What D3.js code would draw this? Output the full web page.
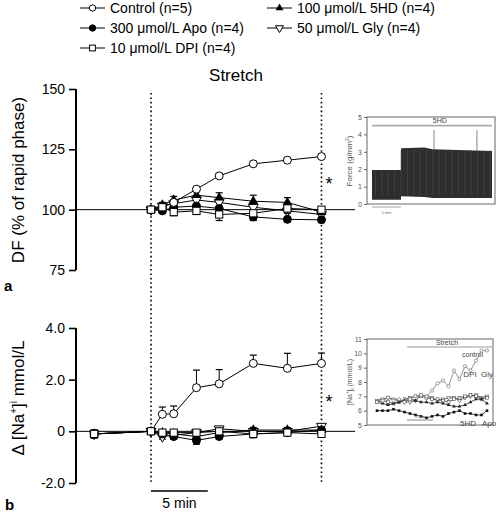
<!DOCTYPE html>
<html><head><meta charset="utf-8">
<script src="https://cdn.jsdelivr.net/npm/d3@7"></script>
<style>body{margin:0;background:#fff}svg{display:block;font-family:"Liberation Sans",Arial,sans-serif}</style>
</head><body><svg id="c" width="496" height="519"></svg>
<script>
// ---- data ----
const seriesNames = ["Control (n=5)", "300 \u03bcmol/L Apo (n=4)", "10 \u03bcmol/L DPI (n=4)", "100 \u03bcmol/L 5HD (n=4)", "50 \u03bcmol/L Gly (n=4)"];
const seriesKeys = ["control", "apo", "dpi", "hd", "gly"];
const timesA = [0, 1, 2, 4, 6, 9, 12, 15];
const dfControl = [100, 101, 103, 108.5, 114, 119, 120.5, 122];
const dfApo = [100, 99.5, 101, 101.5, 100.5, 97, 96, 95.8];
const dfDpi = [100, 101, 99, 99.5, 98, 98.5, 100.5, 100];
const dfHd = [100, 102, 104, 106, 105, 103.5, 103, 99];
const dfGly = [100, 101.5, 102.5, 104, 103, 101, 99.5, 98];
const dfErrControl = [0.5, 1, 1, 1, 1, 1, 1, 1.2];
const dfErrApo = [0.5, 1, 1.5, 1.5, 1.5, 1.5, 1, 1];
const dfErrDpi = [0.5, 1.5, 1.5, 1.5, 2.5, 2, 2, 2];
const dfErrHd = [0.5, 1, 1.5, 1.5, 2, 2.5, 2, 2];
const dfErrGly = [0.5, 1, 1.5, 1.5, 2, 1.5, 1.5, 1.5];
const yTicksA = [75, 100, 125, 150];

const timesB = [-5, 0, 1, 2, 4, 6, 9, 12, 15];
const naControl = [-0.1, 0, 0.66, 0.68, 1.69, 1.84, 2.63, 2.44, 2.63];
const naApo = [-0.1, 0, -0.1, -0.2, -0.35, -0.2, -0.1, -0.05, 0.05];
const naDpi = [-0.1, 0, -0.05, -0.05, -0.05, 0, -0.1, -0.05, -0.1];
const naHd = [-0.1, 0, -0.05, -0.1, -0.2, -0.05, 0.05, 0.05, 0.05];
const naGly = [-0.1, 0, -0.2, -0.15, -0.05, 0.1, 0, 0, 0.2];
const naErrControl = [0.15, 0.05, 0.28, 0.3, 0.68, 0.55, 0.32, 0.58, 0.4];
const naErrApo = [0.15, 0.05, 0.1, 0.1, 0.15, 0.1, 0.1, 0.1, 0.1];
const naErrDpi = [0.15, 0.05, 0.1, 0.1, 0.1, 0.2, 0.15, 0.1, 0.1];
const naErrHd = [0.15, 0.05, 0.1, 0.1, 0.1, 0.15, 0.1, 0.1, 0.1];
const naErrGly = [0.15, 0.05, 0.1, 0.1, 0.1, 0.15, 0.1, 0.1, 0.1];
const yTicksB = [-2, 0, 2, 4];
const yTickLabelsB = ["-2.0", "0", "2.0", "4.0"];

// inset a: force trace
const forceT = [0, 5, 5.01, 9, 10.5, 20.7];
const forceTop = [1.95, 1.95, 3.2, 3.25, 3.15, 3.05];
const forceBottom = [0.25, 0.25, 0.45, 0.4, 0.35, 0.35];
const spikeT = [10.7, 18.1];
const spikeV = [4.25, 4.25];
const forceTicks = [0, 1, 2, 3, 4, 5];

// inset b: raw [Na+]i traces
const rawT = d3.range(0, 21);
const rawControl = [6.6, 6.7, 6.9, 6.7, 6.8, 6.6, 6.8, 7.0, 7.1, 7.0, 7.4, 7.9, 8.1, 7.7, 8.8, 8.2, 9.1, 8.8, 9.5, 10.2, 10.2];
const rawApo = [6.0, 6.0, 6.0, 6.1, 6.0, 5.9, 5.8, 5.7, 5.6, 5.5, 5.6, 5.7, 5.6, 5.8, 5.9, 6.0, 5.8, 5.8, 5.7, 5.7, 6.0];
const rawHd = [6.6, 6.5, 6.4, 6.5, 6.6, 6.7, 6.8, 6.7, 6.6, 6.6, 6.5, 6.6, 6.5, 6.4, 6.3, 6.3, 6.4, 6.6, 6.8, 6.8, 6.5];
const rawDpi = [6.6, 6.7, 6.6, 6.5, 6.6, 6.8, 6.9, 7.0, 7.0, 6.9, 6.8, 6.8, 6.7, 6.6, 6.8, 6.9, 7.0, 7.1, 7.0, 6.8, 6.9];
const rawGly = [6.7, 6.8, 6.9, 6.8, 6.7, 6.6, 6.6, 6.7, 7.1, 7.0, 6.9, 6.7, 6.8, 6.9, 6.9, 6.7, 6.9, 7.0, 7.1, 6.9, 7.0];
const naTicks = [5, 6, 7, 8, 9, 10, 11];

// ---- drawing ----
const svg = d3.select("#c");
const x = d3.scaleLinear().domain([-6.6, 17.95]).range([76, 355]);
const yA = d3.scaleLinear().domain([75, 150]).range([270, 89]);
const yB = d3.scaleLinear().domain([-2, 4]).range([483, 328]);

function marker(g, key, cx, cy, s) {
  s = s || 1;
  if (key === "control" || key === "apo") {
    g.append("circle").attr("cx", cx).attr("cy", cy).attr("r", 4 * s)
      .attr("fill", key === "apo" ? "#000" : "#fff").attr("stroke", "#000").attr("stroke-width", 1);
  } else if (key === "dpi") {
    g.append("rect").attr("x", cx - 3.6 * s).attr("y", cy - 3.6 * s).attr("width", 7.2 * s).attr("height", 7.2 * s)
      .attr("fill", "#fff").attr("stroke", "#000").attr("stroke-width", 1);
  } else if (key === "hd") {
    g.append("path").attr("d", d3.symbol(d3.symbolTriangle, 42 * s * s)())
      .attr("transform", `translate(${cx},${cy})`).attr("fill", "#000");
  } else if (key === "gly") {
    g.append("path").attr("d", d3.symbol(d3.symbolTriangle, 42 * s * s)())
      .attr("transform", `translate(${cx},${cy}) rotate(180)`).attr("fill", "#fff").attr("stroke", "#000").attr("stroke-width", 1);
  }
}

// legend
const legPos = [[80, 8], [80, 28], [80, 48], [267, 8], [267, 28]];
seriesKeys.forEach((k, i) => {
  const [lx, ly] = legPos[i];
  const g = svg.append("g");
  g.append("line").attr("x1", lx).attr("x2", lx + 25).attr("y1", ly).attr("y2", ly).attr("stroke", "#000");
  marker(g, k, lx + 12.5, ly, 0.8);
  g.append("text").attr("x", lx + 30).attr("y", ly + 5).attr("font-size", 14).text(seriesNames[i]);
});

svg.append("text").attr("x", 236).attr("y", 81).attr("text-anchor", "middle").attr("font-size", 17).text("Stretch");

// dotted lines
[0, 15].forEach(t => {
  svg.append("line").attr("x1", x(t)).attr("x2", x(t)).attr("y1", 93).attr("y2", 483)
    .attr("stroke", "#000").attr("stroke-width", 1.6).attr("stroke-dasharray", "1.6,2.8");
});

function panel(y, times, vals, errs, dirs, ticks, tickLabels, base) {
  const g = svg.append("g");
  g.append("line").attr("x1", 76).attr("x2", 355).attr("y1", y(base)).attr("y2", y(base)).attr("stroke", "#000").attr("stroke-width", 1);
  const ax = g.append("g").attr("transform", "translate(76,0)")
    .call(d3.axisLeft(y).tickValues(ticks).tickSize(7).tickPadding(4).tickFormat((d, i) => tickLabels[i]));
  ax.select(".domain").attr("stroke-width", 2).attr("d", `M0,${y(ticks[0])}V${y(ticks[ticks.length - 1])}`);
  ax.selectAll(".tick line").attr("stroke-width", 1.6);
  ax.selectAll("text").attr("font-size", 14).attr("font-family", "Liberation Sans, Arial, sans-serif");
  const order = [4, 3, 1, 0, 2];
  const line = d3.line().x((d, i) => x(times[i])).y(d => y(d));
  order.forEach(si => {
    g.append("path").attr("d", line(vals[si])).attr("fill", "none").attr("stroke", "#000").attr("stroke-width", 1);
  });
  order.forEach(si => {
    const k = seriesKeys[si];
    vals[si].forEach((v, i) => {
      const e = errs[si][i] * dirs[si];
      const cx = x(times[i]);
      g.append("line").attr("x1", cx).attr("x2", cx).attr("y1", y(v)).attr("y2", y(v + e)).attr("stroke", "#000");
      g.append("line").attr("x1", cx - 3.5).attr("x2", cx + 3.5).attr("y1", y(v + e)).attr("y2", y(v + e)).attr("stroke", "#000").attr("stroke-width", 1.2);
    });
    vals[si].forEach((v, i) => marker(g, k, x(times[i]), y(v)));
  });
}

panel(yA, timesA, [dfControl, dfApo, dfDpi, dfHd, dfGly], [dfErrControl, dfErrApo, dfErrDpi, dfErrHd, dfErrGly],
  [1, -1, -1, 1, 1], yTicksA, yTicksA.map(String), 100);
panel(yB, timesB, [naControl, naApo, naDpi, naHd, naGly], [naErrControl, naErrApo, naErrDpi, naErrHd, naErrGly],
  [1, -1, -1, 1, -1], yTicksB, yTickLabelsB, 0);

// axis titles
svg.append("text").attr("transform", "translate(24,180) rotate(-90)").attr("text-anchor", "middle").attr("font-size", 17).text("DF (% of rapid phase)");
const tb = svg.append("text").attr("transform", "translate(24,398) rotate(-90)").attr("text-anchor", "middle").attr("font-size", 17);
tb.append("tspan").text("\u0394 [Na");
tb.append("tspan").attr("font-size", 10).attr("dy", -7).text("+");
tb.append("tspan").attr("dy", 7).text("]");
tb.append("tspan").attr("font-size", 10).attr("dy", -7).text("i");
tb.append("tspan").attr("dy", 7).text(" mmol/L");

svg.append("text").attr("x", 4).attr("y", 291).attr("font-size", 15).attr("font-weight", "bold").text("a");
svg.append("text").attr("x", 5).attr("y", 510).attr("font-size", 15).attr("font-weight", "bold").text("b");

svg.append("text").attr("x", 329).attr("y", 190).attr("text-anchor", "middle").attr("font-size", 18).text("*");
svg.append("text").attr("x", 329).attr("y", 408).attr("text-anchor", "middle").attr("font-size", 18).text("*");

// 5 min bar
svg.append("line").attr("x1", x(0)).attr("x2", x(5)).attr("y1", 491).attr("y2", 491).attr("stroke", "#000").attr("stroke-width", 1.6);
svg.append("text").attr("x", (x(0) + x(5)) / 2).attr("y", 508).attr("text-anchor", "middle").attr("font-size", 14).text("5 min");

// ---- inset a ----
const ia = svg.append("g");
const fx = d3.scaleLinear().domain([0, 20.7]).range([372, 492]);
const fy = d3.scaleLinear().domain([0, 5]).range([204, 117]);
ia.append("rect").attr("x", 367).attr("y", 117).attr("width", 128).attr("height", 87).attr("fill", "none").attr("stroke", "#666").attr("stroke-width", 1);
const fax = ia.append("g").attr("transform", "translate(367,0)").call(d3.axisLeft(fy).tickValues(forceTicks).tickSize(3).tickPadding(2).tickFormat(d3.format("d")));
fax.select(".domain").remove();
fax.selectAll("line").attr("stroke", "#666");
fax.selectAll("text").attr("font-size", 7).attr("fill", "#555").attr("font-family", "Liberation Sans, Arial, sans-serif");
ia.append("path").attr("d", d3.area().x((d, i) => fx(forceT[i])).y0((d, i) => fy(forceBottom[i])).y1(d => fy(d))(forceTop)).attr("fill", "#2e2e2e");
d3.range(0.6, 20.7, 1.1).forEach(t => ia.append("line").attr("x1", fx(t)).attr("x2", fx(t)).attr("y1", fy(0.5)).attr("y2", fy(t < 5 ? 1.9 : 3.1)).attr("stroke", "#555").attr("stroke-width", 0.5));
spikeT.forEach((t, i) => ia.append("line").attr("x1", fx(t)).attr("x2", fx(t)).attr("y1", fy(3.1)).attr("y2", fy(spikeV[i])).attr("stroke", "#666").attr("stroke-width", 0.8));
ia.append("line").attr("x1", fx(0)).attr("x2", fx(20.7)).attr("y1", fy(4.5)).attr("y2", fy(4.5)).attr("stroke", "#aaa").attr("stroke-width", 1.8);
ia.append("text").attr("x", fx(11.7)).attr("y", 123).attr("text-anchor", "middle").attr("font-size", 7).attr("fill", "#444").text("5HD");
ia.append("line").attr("x1", fx(0)).attr("x2", fx(5)).attr("y1", 207).attr("y2", 207).attr("stroke", "#888").attr("stroke-width", 0.8);
ia.append("text").attr("x", fx(2.5)).attr("y", 214).attr("text-anchor", "middle").attr("font-size", 4).attr("fill", "#666").text("5 min");
const fl = ia.append("text").attr("transform", "translate(352,161) rotate(-90)").attr("text-anchor", "middle").attr("font-size", 8).attr("fill", "#555");
fl.append("tspan").text("Force (g/mm");
fl.append("tspan").attr("font-size", 5).attr("dy", -3).text("2");
fl.append("tspan").attr("dy", 3).text(")");

// ---- inset b ----
const ib = svg.append("g");
const nx = d3.scaleLinear().domain([0, 20]).range([377, 487]);
const ny = d3.scaleLinear().domain([5, 11]).range([425, 339]);
ib.append("rect").attr("x", 367).attr("y", 339).attr("width", 126).attr("height", 86).attr("fill", "none").attr("stroke", "#666").attr("stroke-width", 1);
const nax = ib.append("g").attr("transform", "translate(367,0)").call(d3.axisLeft(ny).tickValues(naTicks).tickSize(3).tickPadding(2).tickFormat(d3.format("d")));
nax.select(".domain").remove();
nax.selectAll("line").attr("stroke", "#666");
nax.selectAll("text").attr("font-size", 7).attr("fill", "#555").attr("font-family", "Liberation Sans, Arial, sans-serif");
const rawSets = [[rawGly, "gly", "#444"], [rawDpi, "dpi", "#444"], [rawHd, "hd", "#222"], [rawApo, "apo", "#111"], [rawControl, "control", "#777"]];
const rl = d3.line().x((d, i) => nx(rawT[i])).y(d => ny(d));
rawSets.forEach(([arr, k, col]) => {
  ib.append("path").attr("d", rl(arr)).attr("fill", "none").attr("stroke", col).attr("stroke-width", 0.8);
  arr.forEach((v, i) => {
    const cx = nx(rawT[i]), cy = ny(v);
    if (k === "control") ib.append("circle").attr("cx", cx).attr("cy", cy).attr("r", 1.6).attr("fill", "#fff").attr("stroke", "#777").attr("stroke-width", 0.7);
    else if (k === "apo") ib.append("rect").attr("x", cx - 1.3).attr("y", cy - 1.3).attr("width", 2.6).attr("height", 2.6).attr("fill", "#111");
    else if (k === "dpi") ib.append("rect").attr("x", cx - 1.4).attr("y", cy - 1.4).attr("width", 2.8).attr("height", 2.8).attr("fill", "#fff").attr("stroke", "#444").attr("stroke-width", 0.6);
    else if (k === "hd") ib.append("path").attr("d", d3.symbol(d3.symbolTriangle, 6)()).attr("transform", `translate(${cx},${cy})`).attr("fill", "#222");
    else ib.append("path").attr("d", d3.symbol(d3.symbolTriangle, 7)()).attr("transform", `translate(${cx},${cy}) rotate(180)`).attr("fill", "#fff").attr("stroke", "#444").attr("stroke-width", 0.6);
  });
});
ib.append("line").attr("x1", 407).attr("x2", 492).attr("y1", 347).attr("y2", 347).attr("stroke", "#999").attr("stroke-width", 1);
ib.append("text").attr("x", 447).attr("y", 345).attr("text-anchor", "middle").attr("font-size", 7).attr("fill", "#444").text("Stretch");
ib.append("text").attr("x", 483).attr("y", 357).attr("text-anchor", "end").attr("font-size", 7).attr("fill", "#444").text("control");
ib.append("text").attr("x", 470).attr("y", 377).attr("text-anchor", "middle").attr("font-size", 8).attr("fill", "#444").text("DPI");
ib.append("text").attr("x", 487).attr("y", 377).attr("text-anchor", "middle").attr("font-size", 8).attr("fill", "#444").text("Gly");
ib.append("text").attr("x", 468).attr("y", 426).attr("text-anchor", "middle").attr("font-size", 8).attr("fill", "#444").text("5HD");
ib.append("text").attr("x", 489).attr("y", 426).attr("text-anchor", "middle").attr("font-size", 8).attr("fill", "#444").text("Apo");
ib.append("line").attr("x1", 407).attr("x2", 433).attr("y1", 420).attr("y2", 420).attr("stroke", "#666").attr("stroke-width", 0.8);
ib.append("text").attr("x", 420).attr("y", 418).attr("text-anchor", "middle").attr("font-size", 4).attr("fill", "#666").text("5 min");
const nl = ib.append("text").attr("transform", "translate(352,382) rotate(-90)").attr("text-anchor", "middle").attr("font-size", 7).attr("fill", "#555");
nl.append("tspan").text("[Na");
nl.append("tspan").attr("font-size", 4.5).attr("dy", -3).text("+");
nl.append("tspan").attr("dy", 3).text("]");
nl.append("tspan").attr("font-size", 4.5).attr("dy", 2).text("i");
nl.append("tspan").attr("dy", -2).text(" (mmol/L)");
</script></body></html>
